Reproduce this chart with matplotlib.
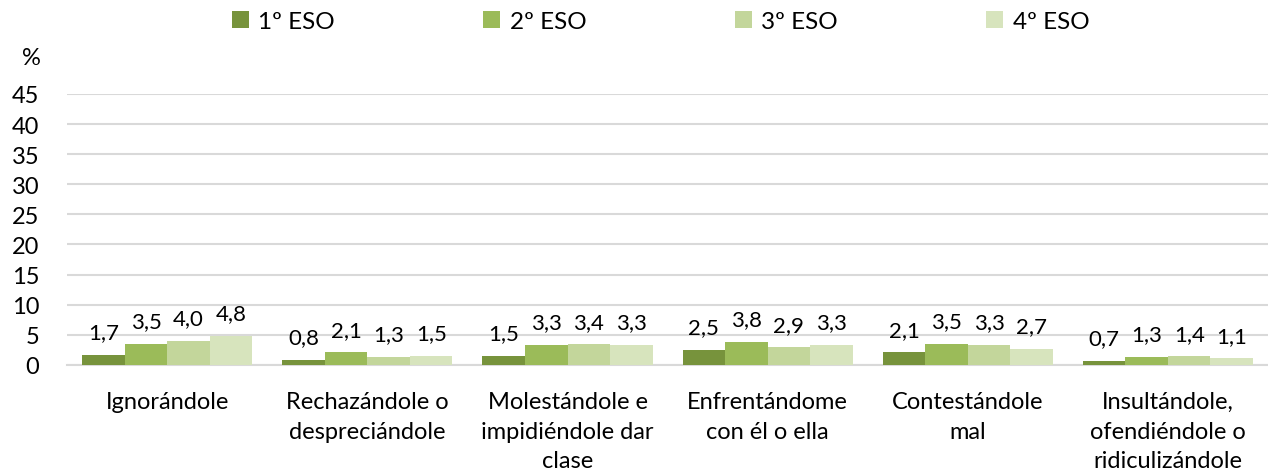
import matplotlib
matplotlib.use("Agg")
import matplotlib.pyplot as plt
import numpy as np

plt.rcParams["font.family"] = ["Lato", "DejaVu Sans"]

categories = ["Ignorándole", "Rechazándole o\ndespreciándole", "Molestándole e\nimpidiéndole dar\nclase",
              "Enfrentándome\ncon él o ella", "Contestándole\nmal", "Insultándole,\nofendiéndole o\nridiculizándole"]
series_names = ["1º ESO", "2º ESO", "3º ESO", "4º ESO"]
eso1 = [1.7, 0.8, 1.5, 2.5, 2.1, 0.7]
eso2 = [3.5, 2.1, 3.3, 3.8, 3.5, 1.3]
eso3 = [4.0, 1.3, 3.4, 2.9, 3.3, 1.4]
eso4 = [4.8, 1.5, 3.3, 3.3, 2.7, 1.1]
yticks = [0, 5, 10, 15, 20, 25, 30, 35, 40, 45]

colors = ["#77933C", "#9BBB59", "#C3D69B", "#D7E4BD"]

fig = plt.figure(figsize=(12.68, 4.77), dpi=100)
ax = fig.add_axes([0.053, 0.233, 0.947, 0.568])

x = np.arange(len(categories))
w = 0.2125
for i, (vals, name) in enumerate(zip([eso1, eso2, eso3, eso4], series_names)):
    pos = x + (i - 1.5) * w
    ax.bar(pos, vals, width=w, color=colors[i], label=name, zorder=3)
    for px, v in zip(pos, vals):
        ax.annotate(f"{v:.1f}".replace(".", ","), (px, v), xytext=(0, 9),
                    textcoords="offset points", ha="center", va="bottom", fontsize=16)

ax.set_xlim(-0.5, len(categories) - 0.5)
ax.set_ylim(0, 45)
ax.set_yticks(yticks)
ax.tick_params(axis="y", length=0, labelsize=17, pad=20)
ax.set_xticks(x)
ax.set_xticklabels(categories, fontsize=17, linespacing=1.5)
ax.tick_params(axis="x", length=0, pad=19)
ax.yaxis.grid(True, color="#D9D9D9", lw=1.5, zorder=0)
for s in ["top", "right", "left"]:
    ax.spines[s].set_visible(False)
ax.spines["bottom"].set_color("#D9D9D9")
ax.spines["bottom"].set_linewidth(1.5)

fig.text(0.017, 0.878, "%", fontsize=17, ha="left", va="center")

fig.legend(loc="center", bbox_to_anchor=(0.521, 0.952), ncol=4, frameon=False,
           fontsize=17.5, handlelength=0.7, handleheight=0.7, columnspacing=6.1,
           handletextpad=0.4)

fig.savefig("out.png", dpi=100)
